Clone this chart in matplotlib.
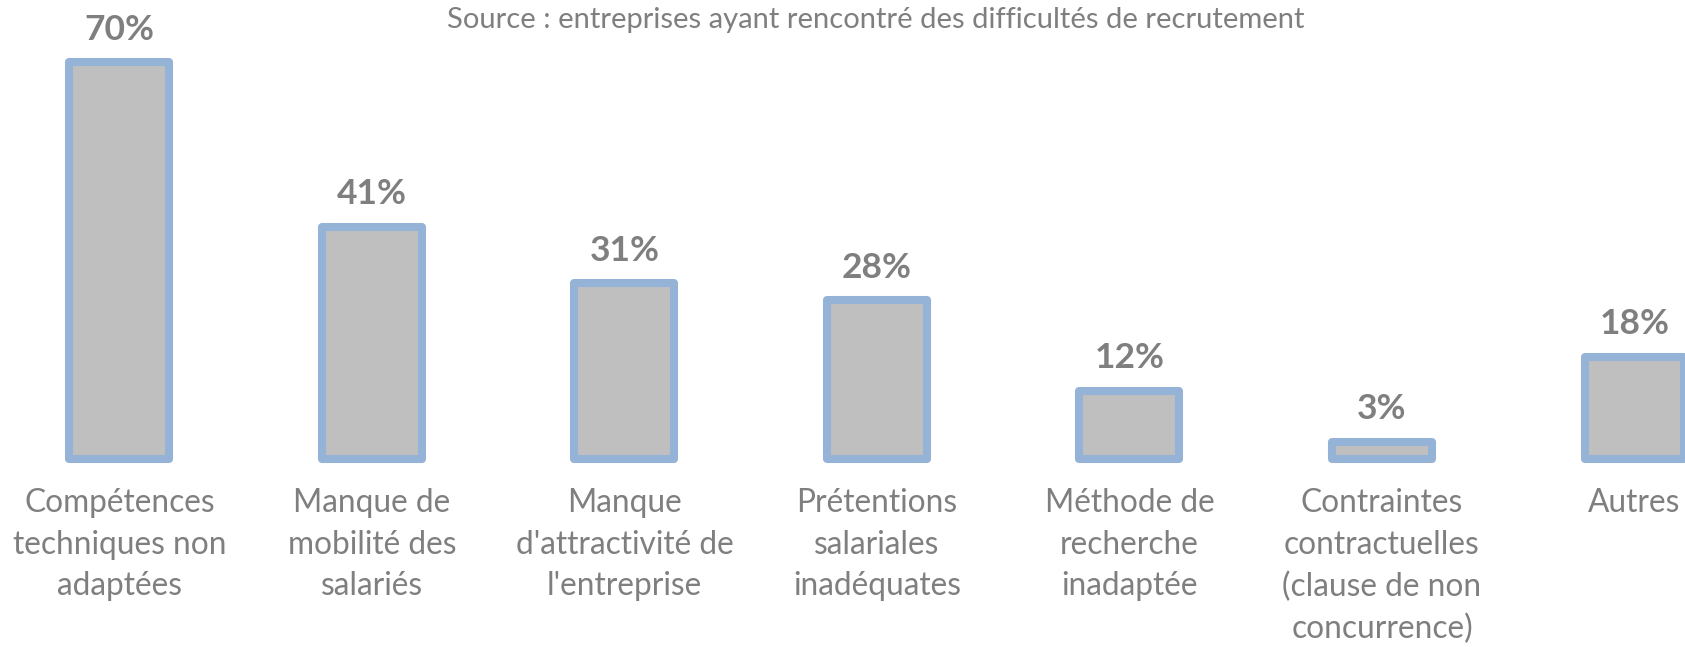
import matplotlib
matplotlib.use("Agg")
import matplotlib.pyplot as plt

# data
categories = ["Compétences\ntechniques non\nadaptées",
              "Manque de\nmobilité des\nsalariés",
              "Manque\nd'attractivité de\nl'entreprise",
              "Prétentions\nsalariales\ninadéquates",
              "Méthode de\nrecherche\ninadaptée",
              "Contraintes\ncontractuelles\n(clause de non\nconcurrence)",
              "Autres"]
values = [70, 41, 31, 28, 12, 3, 18]
source = "Source : entreprises ayant rencontré des difficultés de recrutement"

grey_txt = "#7f7f7f"
plt.rcParams["font.family"] = ["Lato", "DejaVu Sans"]

fig = plt.figure(figsize=(16.85, 6.47), dpi=100)
ax = fig.add_axes([0, 0, 1, 1])

x = list(range(len(values)))
ax.bar(x, values, width=0.396, color="#bfbfbf", edgecolor="#95b3d7",
       linewidth=5.8, joinstyle="round")

for xi, v in zip(x, values):
    ax.annotate(f"{v}%", xy=(xi, v), xytext=(0, 12), textcoords="offset points",
                ha="center", va="bottom", fontsize=25.5, fontweight="bold", color=grey_txt)

for xi, lab in zip(x, categories):
    ax.annotate(lab, xy=(xi, 0), xytext=(0, -21), textcoords="offset points",
                ha="center", va="top", fontsize=22.8, color=grey_txt, linespacing=1.48)

fig.text(0.52, 0.969, source, ha="center", va="center", fontsize=21, color=grey_txt)

ax.set_xlim(-0.473, 6.2)
ax.set_ylim(-33.2, 81.0)
ax.axis("off")

fig.savefig("out.png", dpi=100)
